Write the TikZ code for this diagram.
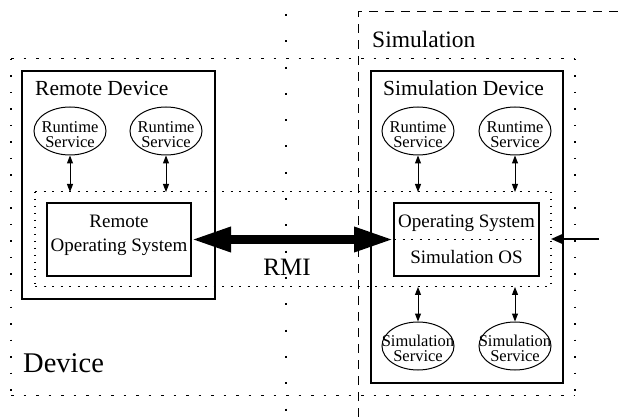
\documentclass[tikz,border=0pt]{standalone}
\usepackage{fontspec}
\setmainfont{Liberation Serif}
\usetikzlibrary{arrows.meta,shapes.geometric}

\begin{document}
\begin{tikzpicture}[x=1pt,y=-1pt,
  box/.style={draw, line width=1.2pt, inner sep=0pt, outer sep=0pt, anchor=north west},
  area/.style={inner sep=0pt, outer sep=0pt, anchor=north west},
  hdots/.style={line width=1pt, dash pattern=on 2.5pt off 10pt},
  vdots/.style={line width=1.2pt, dash pattern=on 1.5pt off 15pt},
  hfine/.style={line width=1pt, dash pattern=on 2pt off 6.5pt},
  vfine/.style={line width=1.2pt, dash pattern=on 1.5pt off 5.5pt},
  sparse/.style={line width=2pt, dash pattern=on 2pt off 24.3pt},
  simdash/.style={line width=1pt, dash pattern=on 9pt off 7pt},
  svc/.style={draw, ellipse, line width=1pt, minimum width=72pt, minimum height=48pt, inner sep=0pt},
  svctext/.style={font=\fontsize{16.5}{16.5}\selectfont, anchor=base, inner sep=0pt},
  title/.style={anchor=base west, inner sep=0pt},
  ostext/.style={font=\fontsize{19}{19}\selectfont, anchor=base, inner sep=0pt},
  link/.style={line width=1pt, {Triangle[length=8pt,width=6pt]}-{Triangle[length=8pt,width=6pt]}},
]
\useasboundingbox (0,0) rectangle (622,417);

% dashed simulation region (open towards the page edge)
\coordinate (simtop) at (622,12);
\coordinate (simcorner) at (358,12);
\coordinate (simbot) at (358,417);
\draw[simdash] (simbot) -- (simcorner) -- (simtop);
\node[title, font=\fontsize{23.5}{23.5}\selectfont] (simlbl) at (372,48) {Simulation};

% sparse dotted separator
\coordinate (septop) at (286,14);
\coordinate (sepbot) at (286,417);
\draw[sparse] (septop) -- (sepbot);

% outer dotted device region
\node[area, minimum width=564pt, minimum height=336pt] (dev) at (11,59) {};
\draw[hdots] (dev.north west) -- (dev.north east);
\draw[hdots] (dev.south west) -- (dev.south east);
\draw[vdots] (dev.north west) -- (dev.south west);
\draw[vdots] (dev.north east) -- (dev.south east);
\node[title, font=\fontsize{28.5}{28.5}\selectfont] (devlbl) at (23,372) {Device};

% device boxes
\node[box, minimum width=193pt, minimum height=228pt] (rdev) at (22,71) {};
\node[title, font=\fontsize{21.5}{21.5}\selectfont] (rdevlbl) at (35,96) {Remote Device};
\node[box, minimum width=192pt, minimum height=312pt] (sdev) at (371,71) {};
\node[title, font=\fontsize{21.5}{21.5}\selectfont] (sdevlbl) at (383,96) {Simulation Device};

% dotted operating system layer
\node[area, minimum width=516pt, minimum height=95pt] (layer) at (35,192) {};
\draw[hfine] (layer.north west) -- (layer.north east);
\draw[hfine] (layer.south west) -- (layer.south east);
\draw[vfine] (layer.north west) -- (layer.south west);
\draw[vfine] (layer.north east) -- (layer.south east);

% operating systems
\node[box, minimum width=144pt, minimum height=73pt] (ros) at (47,203) {};
\node[ostext] (rostxt1) at (119,228) {Remote};
\node[ostext] (rostxt2) at (119,252) {Operating System};

\node[box, minimum width=145pt, minimum height=73pt] (sos) at (394,203) {};
\draw[hfine] (sos.west) -- (sos.east);
\node[ostext] (sostxt1) at (466.5,228) {Operating System};
\node[ostext] (sostxt2) at (466.5,264) {Simulation OS};

% runtime services
\foreach \n/\x in {rs1/70, rs2/166, rs3/418, rs4/515} {
  \node[svc] (\n) at (\x,131) {};
  \node[svctext] (\n a) at (\x,132.3) {Runtime};
  \node[svctext] (\n b) at (\x,147.7) {Service};
  \draw[link] (\n.south) -- (\n.south |- layer.north);
}

% simulation services
\foreach \n/\x in {ss1/418, ss2/515} {
  \node[svc] (\n) at (\x,346) {};
  \node[svctext] (\n a) at (\x,346.8) {Simulation};
  \node[svctext] (\n b) at (\x,361.8) {Service};
  \draw[link] (\n.north |- layer.south) -- (\n.north);
}

% RMI link
\draw[line width=9pt, {Triangle[length=40pt,width=23pt]}-{Triangle[length=40pt,width=23pt]}] (ros.east) -- (sos.west);
\node[anchor=base, inner sep=0pt, font=\fontsize{25}{25}\selectfont] (rmi) at (287,276) {RMI};

% external input
\coordinate (ext) at (599,239);
\draw[line width=2pt, -{Triangle[length=12pt,width=10pt]}] (ext) -- (layer.east |- ext);
\end{tikzpicture}
\end{document}
